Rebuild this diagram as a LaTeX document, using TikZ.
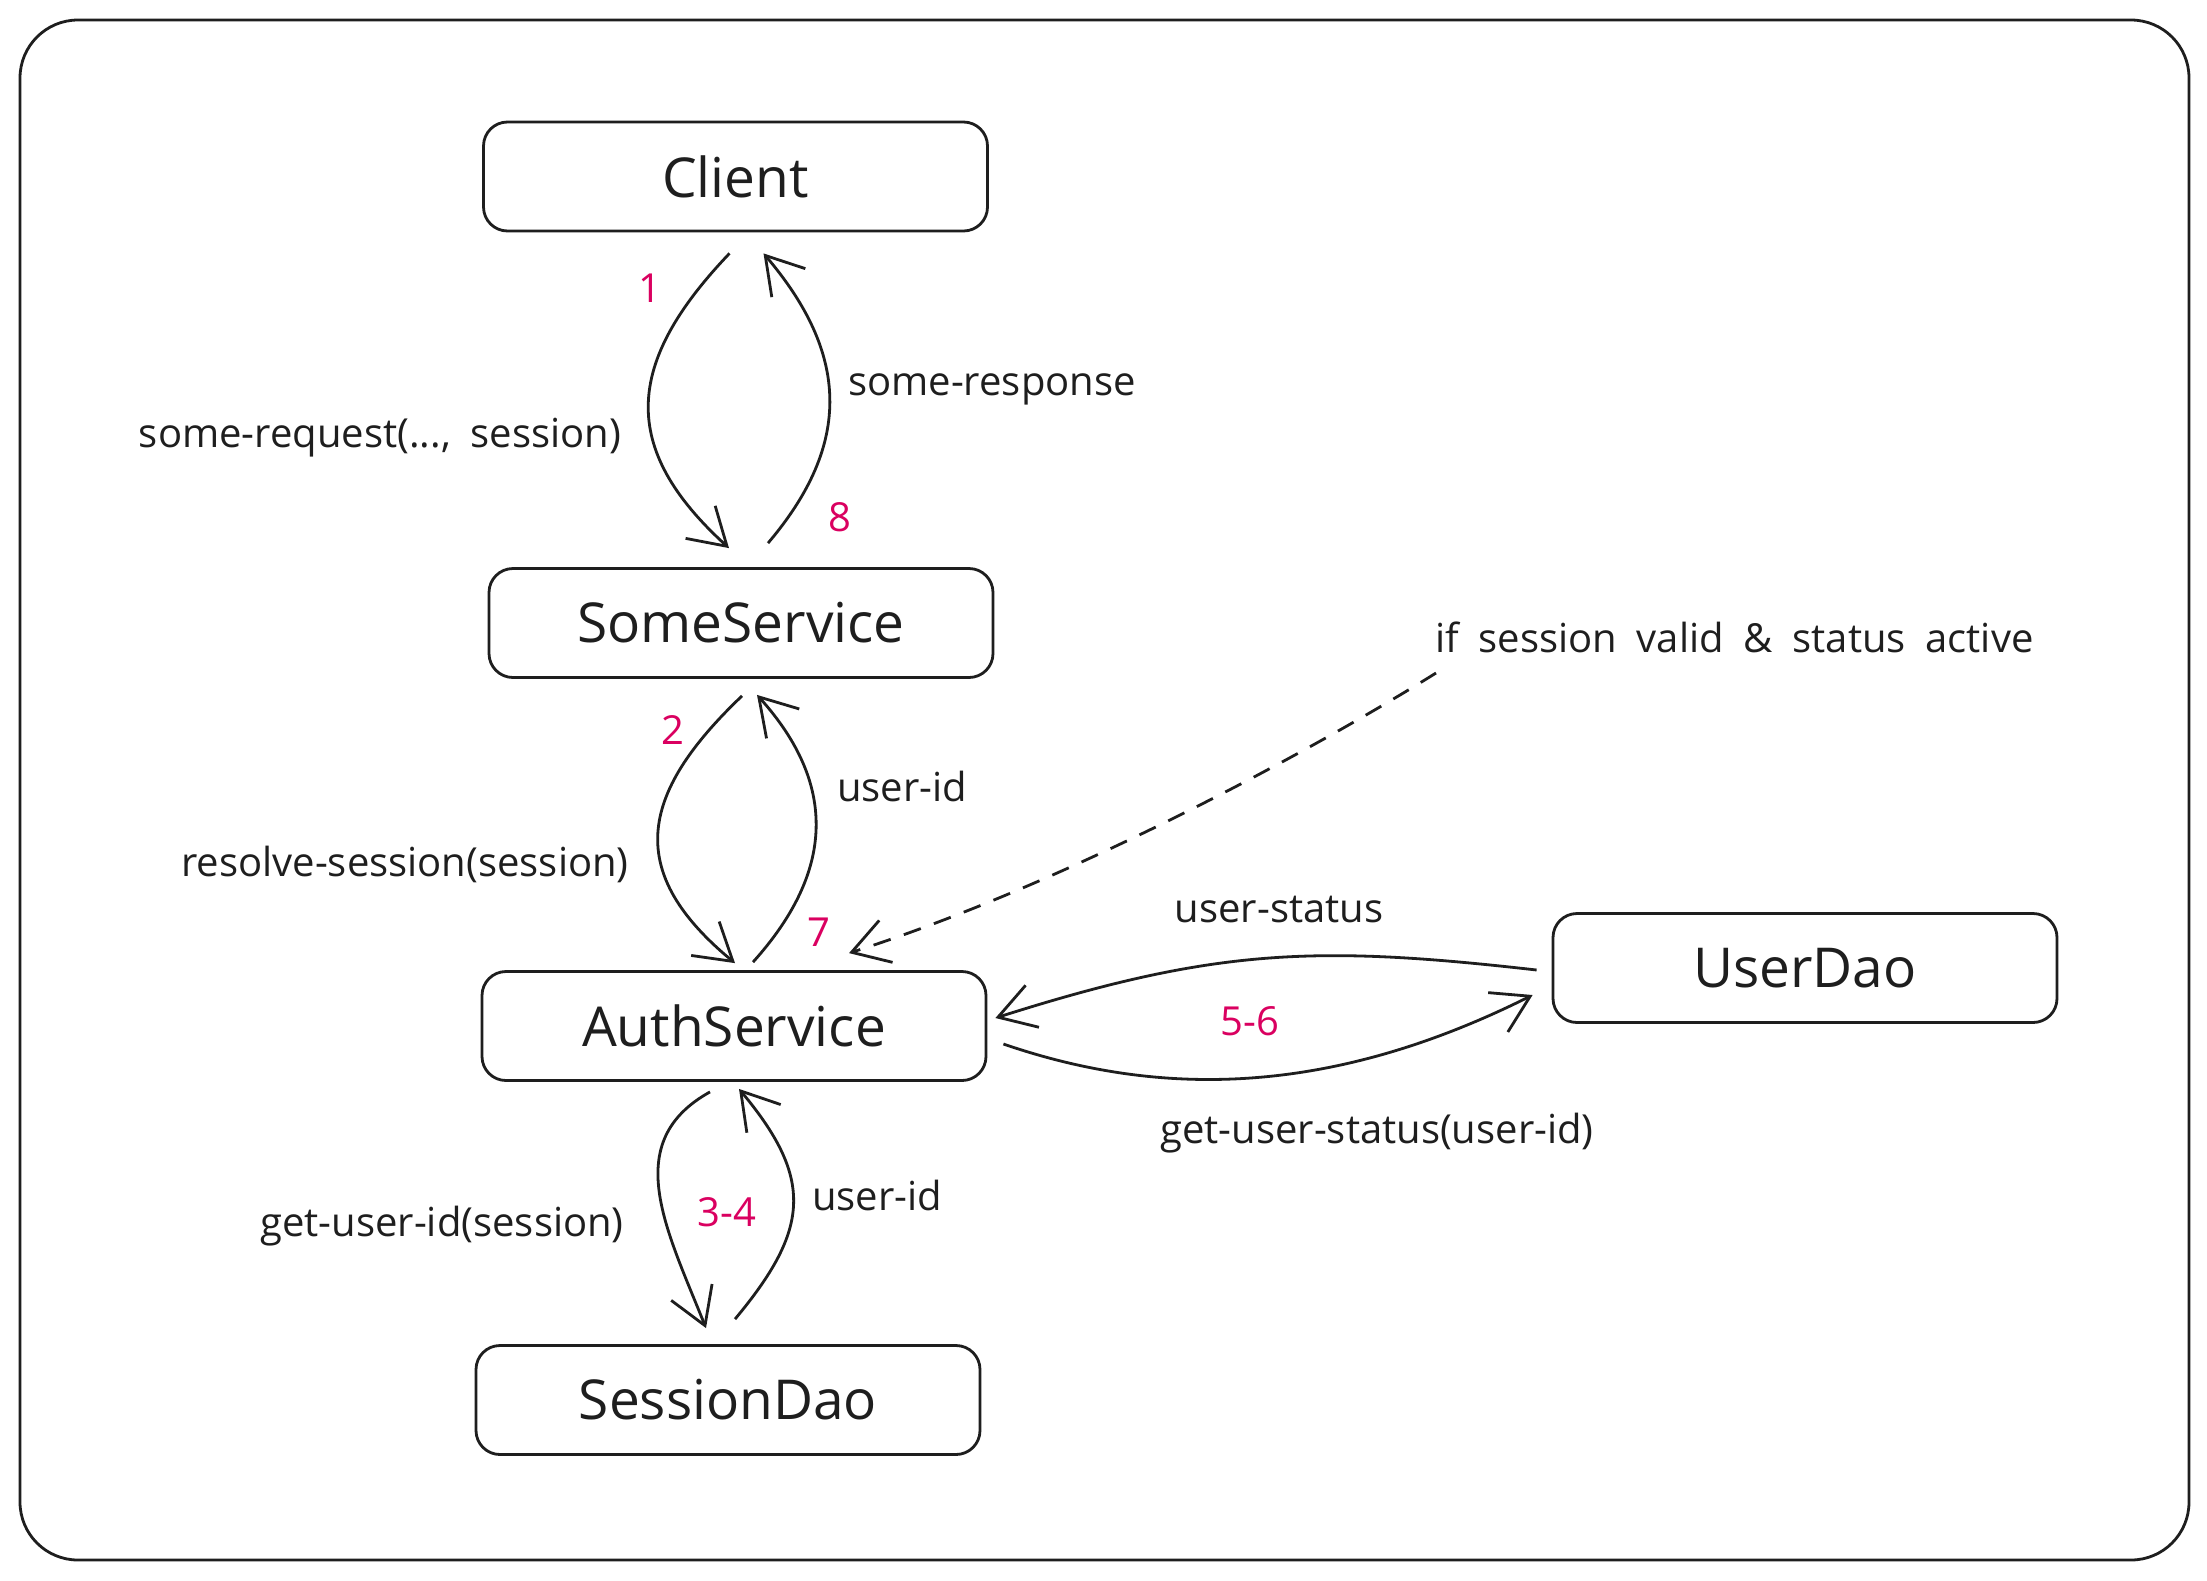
\documentclass[tikz,border=0pt]{standalone}
\usepackage{fontspec}
\setmainfont{Open Sans}[WordSpace=1.9]
\usetikzlibrary{arrows.meta,calc}
\definecolor{ink}{RGB}{30,30,30}
\definecolor{num}{RGB}{218,0,96}
\begin{document}
\begin{tikzpicture}[x=1pt,y=-1pt,
  box/.style={draw=ink, line width=2.8pt, rounded corners=24pt, minimum width=504pt, minimum height=109pt, inner sep=0pt, font=\fontsize{55}{66}\selectfont, text=ink},
  lbl/.style={font=\fontsize{40}{48}\selectfont, text=ink, anchor=base, inner sep=0pt},
  numlbl/.style={lbl, text=num},
  arr/.style={draw=ink, line width=2.8pt, -{Straight Barb[length=36pt,width=44pt,line width=2.8pt]}},
  dasharr/.style={arr, dash pattern=on 18pt off 14pt},
]
\fill[white] (0,0) rectangle (2207,1580);
\useasboundingbox (0,0) rectangle (2207,1580);
\draw[ink, line width=2.8pt, rounded corners=58pt] (20,20) rectangle (2189,1560);

\node[box] (client) at (735.5,176.5) {Client};
\node[box] (some) at (741,623) {SomeService};
\node[box] (auth) at (734,1026) {AuthService};
\node[box] (sess) at (728,1400) {SessionDao};
\node[box] (user) at (1805,968) {UserDao};

\draw[arr] ($(client.south)+(-6,21)$) .. controls +(-105,110) and +(-110,-100) .. ($(some.north)+(-12,-19)$);
\draw[arr] ($(some.north)+(27,-24)$) .. controls +(85,-100) and +(85,100) .. ($(client.south)+(28,21)$);
\draw[arr] ($(some.south)+(1,17)$) .. controls +(-105,100) and +(-109,-90) .. ($(auth.north)+(1,-7)$);
\draw[arr] ($(auth.north)+(19,-8)$) .. controls +(81,-90) and +(81,90) .. ($(some.south)+(16,16)$);
\draw[arr] ($(auth.south)+(-24,10)$) .. controls +(-90,50) and +(-40,-100) .. ($(sess.north)+(-22,-16)$);
\draw[arr] ($(sess.north)+(7,-25)$) .. controls +(75,-90) and +(75,90) .. ($(auth.south)+(5,7)$);
\draw[arr] ($(user.west)+(-15,2)$) .. controls +(-220,-25) and +(220,-70) .. ($(auth.east)+(8,-8)$);
\draw[arr] ($(auth.east)+(16,18)$) .. controls +(160,55) and +(-200,100) .. ($(user.west)+(-19,27)$);

\node[lbl, anchor=base west] (ifnote) at (1435,652) {if session valid \& status active};
\draw[dasharr] ($(ifnote.base west)+(1,21)$) .. controls +(-120,75) and +(220,-70) .. ($(auth.north)+(115,-17)$);

\node[lbl] (lreq) at (380,447) {some-request(..., session)};
\node[lbl] (lresp) at (992,395) {some-response};
\node[numlbl] (n1) at (650,302) {1};
\node[numlbl] (n8) at (840,531) {8};
\node[numlbl] (n2) at (673,744) {2};
\node[lbl] (luid1) at (902,801) {user-id};
\node[lbl] (lres) at (405,876) {resolve-session(session)};
\node[numlbl] (n7) at (819,946) {7};
\node[lbl] (lus) at (1279,922) {user-status};
\node[numlbl] (n56) at (1250,1035) {5-6};
\node[lbl] (lgus) at (1377,1143) {get-user-status(user-id)};
\node[numlbl] (n34) at (727,1226) {3-4};
\node[lbl] (luid2) at (877,1210) {user-id};
\node[lbl] (lguid) at (442,1236) {get-user-id(session)};
\end{tikzpicture}
\end{document}
